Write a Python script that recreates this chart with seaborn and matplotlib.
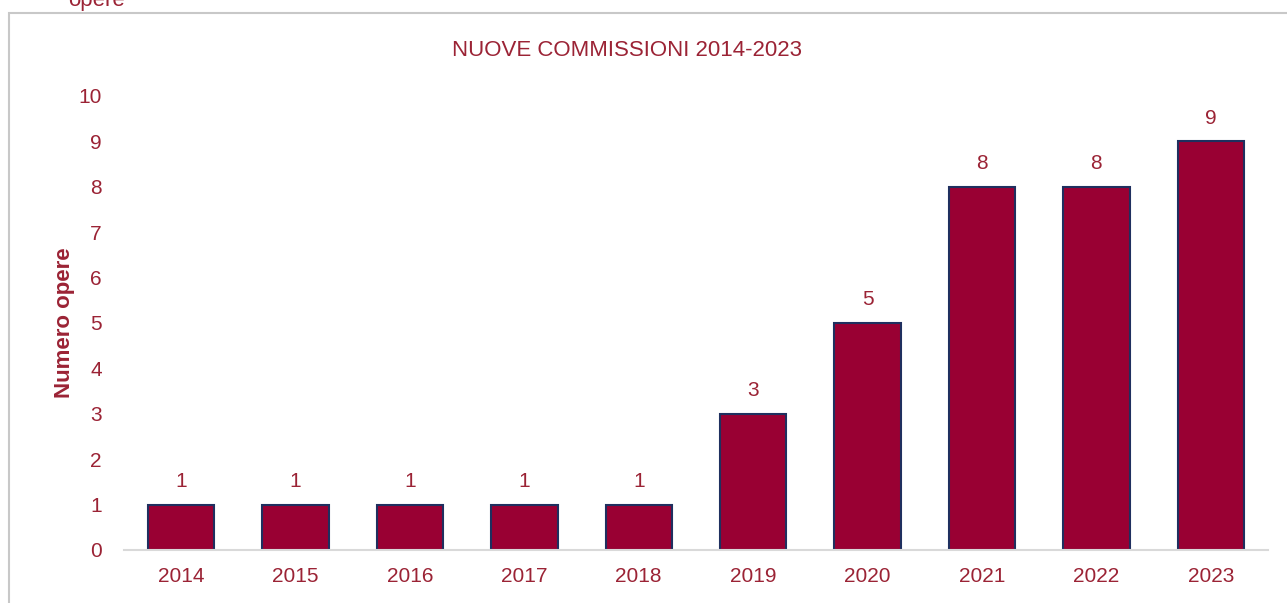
import matplotlib
matplotlib.use("Agg")
import matplotlib.pyplot as plt
import seaborn as sns
import pandas as pd
from matplotlib.patches import Rectangle

years = ["2014", "2015", "2016", "2017", "2018", "2019", "2020", "2021", "2022", "2023"]
opere = [1, 1, 1, 1, 1, 3, 5, 8, 8, 9]

text_color = "#9B2335"
bar_color = "#990033"
edge_color = "#1F2F5F"

sns.set_theme(style="white")
plt.rcParams["font.family"] = ["Liberation Sans Narrow", "Liberation Sans", "DejaVu Sans"]

df = pd.DataFrame({"anno": years, "opere": opere})

fig = plt.figure(figsize=(12.87, 6.03), dpi=100)
ax = fig.add_axes([0.0963, 0.0879, 0.8889, 0.7529])

sns.barplot(data=df, x="anno", y="opere", color=bar_color, width=0.58,
            edgecolor=edge_color, linewidth=1.5, saturation=1, ax=ax)

for i, v in enumerate(opere):
    ax.text(i, v + 0.3, str(v), ha="center", va="bottom", fontsize=15, color=text_color)

ax.set_ylim(0, 10)
ax.set_xlim(-0.5, len(years) - 0.5)
ax.set_yticks(range(0, 11))
ax.tick_params(axis="both", labelsize=15, labelcolor=text_color, length=0)
ax.tick_params(axis="y", pad=16)
ax.tick_params(axis="x", pad=12)
for s in ["top", "right", "left"]:
    ax.spines[s].set_visible(False)
ax.spines["bottom"].set_color("#D9D9D9")
ax.spines["bottom"].set_linewidth(1.5)
ax.set_xlabel("")
ax.set_ylabel("Numero opere", fontsize=16, fontweight="bold", color=text_color)
ax.yaxis.set_label_coords(-0.043, 0.5)

# title sits slightly left of the plot-area centre, as in the reference
fig.text(627 / 1287, 1 - 50 / 603, "NUOVE COMMISSIONI 2014-2023", fontsize=16,
         color=text_color, ha="center", va="center")

# outer frame of the chart area (left and top borders visible)
fig.patches.append(Rectangle((9 / 1287, -0.1), 1.2, 1 - 13 / 603 + 0.1,
                             transform=fig.transFigure, fill=False,
                             edgecolor="#C8C8C8", linewidth=1.5, zorder=0))
fig.text(68 / 1287, 1 - 11 / 603, "opere", fontsize=16, color=text_color, ha="left", va="bottom")

fig.savefig("out.png", dpi=100)
